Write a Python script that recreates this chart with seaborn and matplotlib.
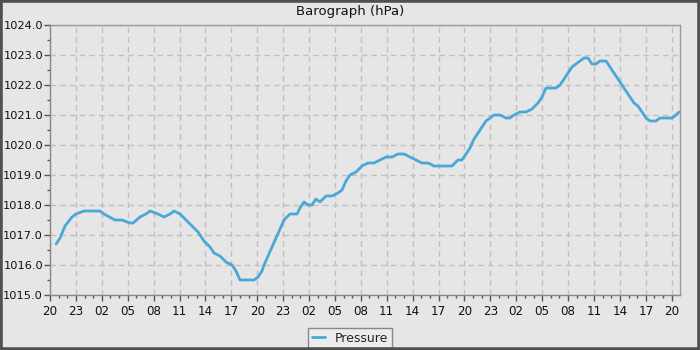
import matplotlib
matplotlib.use("Agg")
import matplotlib.pyplot as plt
import seaborn as sns
import pandas as pd
from matplotlib.ticker import MultipleLocator, FuncFormatter
from matplotlib.patches import Rectangle

# hours since the first tick (20:00 on day 1)
hours = [0.7, 1.16, 1.74, 2.55, 3.01, 3.94, 5.79, 6.25, 7.53, 8.34, 9.26, 9.61,
         10.42, 11.12, 11.58, 12.51, 13.2, 13.9, 14.36, 15.06, 15.75, 16.44,
         17.14, 17.83, 18.53, 18.99, 19.69, 20.38, 21.08, 21.54, 22.0, 23.62,
         24.09, 24.55, 24.78, 25.25, 25.71, 26.17, 26.64, 27.1, 27.79, 28.6,
         28.95, 29.42, 29.88, 30.34, 30.8, 31.27, 31.96, 32.66, 33.35, 33.82,
         34.28, 34.74, 35.44, 36.13, 36.83, 37.52, 38.22, 38.91, 39.61, 40.3,
         41.0, 41.69, 42.39, 43.08, 43.78, 44.47, 45.16, 45.86, 46.55, 47.25,
         47.71, 48.18, 48.64, 49.1, 49.57, 50.03, 50.49, 50.96, 51.42, 52.11,
         52.81, 53.27, 53.73, 54.43, 55.12, 55.82, 56.51, 56.98, 57.44, 58.14,
         58.6, 59.06, 59.53, 59.99, 60.45, 60.91, 61.38, 61.84, 62.3, 62.77,
         63.23, 63.69, 64.39, 64.85, 65.31, 65.78, 66.24, 66.7, 67.17, 67.63,
         68.09, 68.56, 69.02, 69.48, 70.18, 70.64, 71.34, 72.03, 72.5, 72.85]
pressure = [1016.7, 1016.9, 1017.3, 1017.6, 1017.7, 1017.8, 1017.8, 1017.7,
            1017.5, 1017.5, 1017.4, 1017.4, 1017.6, 1017.7, 1017.8, 1017.7,
            1017.6, 1017.7, 1017.8, 1017.7, 1017.5, 1017.3, 1017.1, 1016.8,
            1016.6, 1016.4, 1016.3, 1016.1, 1016.0, 1015.8, 1015.5, 1015.5,
            1015.6, 1015.8, 1016.0, 1016.3, 1016.6, 1016.9, 1017.2, 1017.5,
            1017.7, 1017.7, 1017.9, 1018.1, 1018.0, 1018.0, 1018.2, 1018.1,
            1018.3, 1018.3, 1018.4, 1018.5, 1018.8, 1019.0, 1019.1, 1019.3,
            1019.4, 1019.4, 1019.5, 1019.6, 1019.6, 1019.7, 1019.7, 1019.6,
            1019.5, 1019.4, 1019.4, 1019.3, 1019.3, 1019.3, 1019.3, 1019.5,
            1019.5, 1019.7, 1019.9, 1020.2, 1020.4, 1020.6, 1020.8, 1020.9,
            1021.0, 1021.0, 1020.9, 1020.9, 1021.0, 1021.1, 1021.1, 1021.2,
            1021.4, 1021.6, 1021.9, 1021.9, 1021.9, 1022.0, 1022.2, 1022.4,
            1022.6, 1022.7, 1022.8, 1022.9, 1022.9, 1022.7, 1022.7, 1022.8,
            1022.8, 1022.6, 1022.4, 1022.2, 1022.0, 1021.8, 1021.6, 1021.4,
            1021.3, 1021.1, 1020.9, 1020.8, 1020.8, 1020.9, 1020.9, 1020.9,
            1021.0, 1021.1]
start_hour = 20
series_name = "Pressure"
title = "Barograph (hPa)"

df = pd.DataFrame({"hour": hours, "pressure": pressure, "series": series_name})

sns.set_theme(style="white")
plt.rcParams["font.family"] = ["DejaVu Sans"]
BG = "#e6e6e6"
LINE = "#4aa8d8"

fig = plt.figure(figsize=(7, 3.5), dpi=100, facecolor=BG)
ax = fig.add_axes([50/700, 1-295/350, 630/700, 270/350])
ax.set_facecolor(BG)

sns.lineplot(data=df, x="hour", y="pressure", hue="series", palette=[LINE],
             linewidth=2, ax=ax, estimator=None, sort=False)

ax.set_xlim(0, 72.96)
ax.set_ylim(1015, 1024)
ax.xaxis.set_major_locator(MultipleLocator(3))
ax.xaxis.set_minor_locator(MultipleLocator(1))
ax.xaxis.set_major_formatter(FuncFormatter(lambda v, p: "%02d" % ((start_hour + int(round(v))) % 24)))
ax.yaxis.set_major_locator(MultipleLocator(1))
ax.yaxis.set_minor_locator(MultipleLocator(0.5))
ax.yaxis.set_major_formatter(FuncFormatter(lambda v, p: "%.1f" % v))

ax.grid(True, which="major", color="#c0c0c0", linestyle=(0, (4, 3)), linewidth=1)
ax.tick_params(which="major", direction="out", length=4, width=1, color="#555555",
               labelsize=8.6, labelcolor="#111111", pad=3, bottom=True, left=True)
ax.tick_params(axis="y", which="major", pad=1, labelsize=8.2)
ax.tick_params(which="minor", direction="out", length=2, width=1, color="#555555",
               bottom=True, left=True)
for s in ["top", "right"]:
    ax.spines[s].set_color("#999999")
    ax.spines[s].set_linewidth(1)
for s in ["left", "bottom"]:
    ax.spines[s].set_color("#888888")
    ax.spines[s].set_linewidth(1)
ax.set_xlabel("")
ax.set_ylabel("")

fig.text(0.5, 1-12/350, title, ha="center", va="center", fontsize=9.5, color="#111111")

handles, labels = ax.get_legend_handles_labels()
ax.legend(handles, labels, loc="center", bbox_to_anchor=(0.5, 1-338/350),
          bbox_transform=fig.transFigure, fontsize=9, frameon=True, fancybox=False,
          edgecolor="#888888", facecolor="#ececec", framealpha=1,
          handlelength=1.0, handletextpad=0.8, borderpad=0.3)

fig.patches.append(Rectangle((0, 0), 1, 1, transform=fig.transFigure, fill=False,
                             edgecolor="#505050", linewidth=4, zorder=10))

fig.savefig("out.png", dpi=100, facecolor=BG)
